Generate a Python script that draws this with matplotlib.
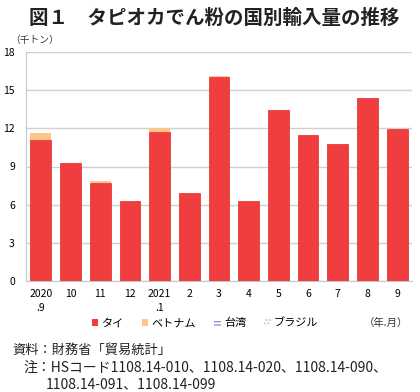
import numpy as np
import matplotlib.pyplot as plt
from matplotlib.patches import Patch

plt.rcParams['font.family'] = ['Noto Sans CJK JP', 'DejaVu Sans']
plt.rcParams['hatch.linewidth'] = 0.8

months = ['2020\n.9', '10', '11', '12', '2021\n.1', '2', '3', '4', '5', '6', '7', '8', '9']
thai = [11.05, 9.25, 7.72, 6.25, 11.7, 6.95, 16.02, 6.25, 13.42, 11.45, 10.74, 14.35, 11.92]
vietnam = [0.55, 0.0, 0.16, 0.0, 0.3, 0.0, 0.1, 0.0, 0.03, 0.0, 0.0, 0.05, 0.0]
taiwan = [0.0] * 13
brazil = [0.0] * 13

red = '#F03E3E'
orange = '#FFC68A'
blue = '#6F86C6'
lightblue = '#9EC3E6'

fig = plt.figure(figsize=(4.2, 3.92), dpi=100)
ax = fig.add_axes([26 / 420, 1 - 281 / 392, 386 / 420, 229 / 392])

x = np.arange(len(months))
w = 0.7
b1 = np.array(thai)
ax.bar(x, thai, w, color=red, edgecolor='#E02828', linewidth=0.5, zorder=3)
ax.bar(x, vietnam, w, bottom=b1, color=orange, linewidth=0, zorder=3)
b2 = b1 + np.array(vietnam)
ax.bar(x, taiwan, w, bottom=b2, color='white', edgecolor=blue, hatch='-----', linewidth=0, zorder=3)
b3 = b2 + np.array(taiwan)
ax.bar(x, brazil, w, bottom=b3, color='white', edgecolor=lightblue, hatch='.....', linewidth=0, zorder=3)

ax.set_xlim(-0.5, len(months) - 0.5)
ax.set_ylim(0, 18)
ax.set_yticks(np.arange(0, 19, 3))
ax.set_xticks(x)
ax.set_xticklabels(months, fontsize=7.5, linespacing=1.5, va='top')
ax.tick_params(axis='y', labelsize=7.5, length=0, pad=8)
ax.tick_params(axis='x', length=0, pad=6)
ax.grid(axis='y', color='#D0D0D0', linewidth=1, zorder=0)
for s in ['top', 'right']:
    ax.spines[s].set_visible(False)
ax.spines['left'].set_color('#C8C8C8')
ax.spines['bottom'].set_color('#C8C8C8')

fig.text(0.51, 1 - 18 / 392, '図１　タピオカでん粉の国別輸入量の推移', ha='center', va='center',
         fontsize=14, fontweight='bold', color='#222222')
fig.text(10 / 420, 1 - 40 / 392, '（千トン）', ha='left', va='center', fontsize=7, color='#333333')

handles = [Patch(facecolor=red, edgecolor='none'),
           Patch(facecolor=orange, edgecolor='none'),
           Patch(facecolor='white', edgecolor=blue, hatch='-----', linewidth=0),
           Patch(facecolor='white', edgecolor=lightblue, hatch='.....', linewidth=0)]
fig.legend(handles, ['タイ', 'ベトナム', '台湾', 'ブラジル'], loc='center', ncol=4,
           bbox_to_anchor=(205 / 420, 1 - 323 / 392), frameon=False, fontsize=8,
           handlelength=0.6, handleheight=0.6, handletextpad=0.3, columnspacing=1.6)
fig.text(408 / 420, 1 - 323 / 392, '（年.月）', ha='right', va='center', fontsize=7.5, color='#333333')

fig.text(12 / 420, 1 - 350 / 392, '資料：財務省「貿易統計」', ha='left', va='center', fontsize=9.5, color='#222222')
fig.text(23 / 420, 1 - 368 / 392, '注：HSコード1108.14-010、1108.14-020、1108.14-090、',
         ha='left', va='center', fontsize=10, color='#222222')
fig.text(46 / 420, 1 - 384 / 392, '1108.14-091、1108.14-099', ha='left', va='center', fontsize=10, color='#222222')

fig.savefig('out.png', dpi=100)
